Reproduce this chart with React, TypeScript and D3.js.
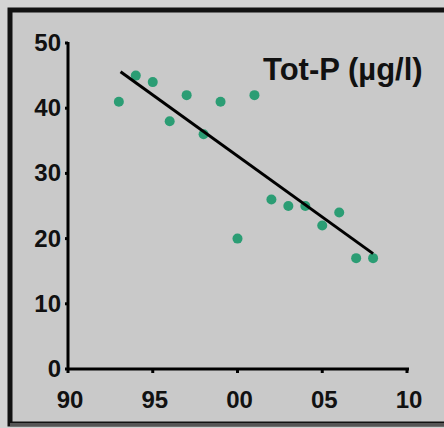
import * as React from "react";
import * as d3 from "d3";

// measured values, Tot-P (µg/l) per year
const years = [1993, 1994, 1995, 1996, 1997, 1998, 1999, 2000, 2001, 2002, 2003, 2004, 2005, 2006, 2007, 2008];
const totP = [41, 45, 44, 38, 42, 36, 41, 20, 42, 26, 25, 25, 22, 24, 17, 17];
const xTicks = [1990, 1995, 2000, 2005, 2010];
const yTicks = [0, 10, 20, 30, 40, 50];
// trend line end points
const trendYears = [1993.1, 2008];
const trendValues = [45.6, 17.7];

const W = 444;
const H = 428;

export default function App() {
  const x = d3.scaleLinear().domain([1990, 2010]).range([68, 407]);
  const y = d3.scaleLinear().domain([0, 50]).range([369, 43]);
  const line = d3.line<number>()
    .x((d, i) => x(trendYears[i]))
    .y(d => y(d));

  const font = "'Liberation Sans', Arial, sans-serif";

  return (
    <svg width={W} height={H} style={{ position: "absolute", left: 0, top: 0, display: "block" }}>
      <rect x={0} y={0} width={W} height={H} fill="#d3d3d3" />
      <rect x={10} y={10} width={W} height={414} fill="#c9c9c9" stroke="#111" strokeWidth={5} />
      <rect x={10} y={423} width={W} height={3} fill="#555" />

      {/* axes */}
      <line x1={x(1990)} x2={x(1990)} y1={y(50) - 1} y2={y(0) + 1} stroke="#000" strokeWidth={3} />
      <line x1={x(1990) - 1} x2={x(2010) + 2} y1={y(0)} y2={y(0)} stroke="#000" strokeWidth={3} />
      {yTicks.map(t => (
        <g key={"y" + t}>
          <line x1={x(1990) - 3} x2={x(1990)} y1={y(t)} y2={y(t)} stroke="#000" strokeWidth={3} />
          <text x={x(1990) - 7} y={y(t) + 8} textAnchor="end" fontFamily={font} fontWeight="bold"
            fontSize={24} fill="#111">{t}</text>
        </g>
      ))}
      {xTicks.map(t => (
        <g key={"x" + t}>
          <line x1={x(t)} x2={x(t)} y1={y(0)} y2={y(0) + 4} stroke="#000" strokeWidth={3} />
          <text x={x(t) + 2} y={408} textAnchor="middle" fontFamily={font} fontWeight="bold"
            fontSize={24} fill="#111">{String(t % 100).padStart(2, "0")}</text>
        </g>
      ))}

      {/* points */}
      {years.map((yr, i) => (
        <circle key={yr} cx={x(yr)} cy={y(totP[i])} r={5} fill="#2b9d74" />
      ))}

      {/* trend */}
      <path d={line(trendValues) || ""} fill="none" stroke="#000" strokeWidth={3} />

      <text x={263} y={80} fontFamily={font} fontWeight="bold" fontSize={31} fill="#111">Tot-P (µg/l)</text>
    </svg>
  );
}
